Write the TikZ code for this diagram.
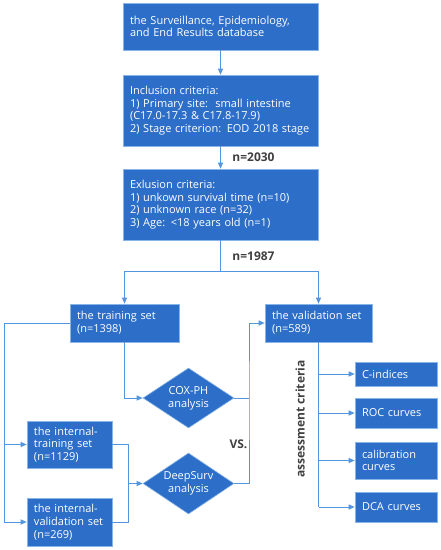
\documentclass[tikz,border=0pt]{standalone}
\usepackage{fontspec}
\setmainfont{Open Sans}
\usetikzlibrary{shapes.geometric,arrows.meta}
\definecolor{boxblue}{RGB}{44,110,200}
\definecolor{lineblue}{RGB}{84,150,222}
\definecolor{labelgray}{RGB}{64,64,64}
\begin{document}
\begin{tikzpicture}[x=1pt,y=-1pt,
  box/.style={rectangle,fill=boxblue,draw=lineblue!70,line width=0.6pt,text=white,align=left,inner sep=0pt,font=\fontsize{11}{12.7}\selectfont,anchor=center},
  dia/.style={diamond,fill=boxblue,draw=lineblue!70,line width=0.6pt,text=white,align=center,inner sep=0pt,aspect=1.5,font=\fontsize{11}{12.7}\selectfont},
  conn/.style={draw=lineblue,line width=1pt},
  arr/.style={conn,-{Triangle[length=6pt,width=5pt]}},
  lbl/.style={text=labelgray,font=\bfseries\fontsize{12}{13}\selectfont},
]
\useasboundingbox (0,0) rectangle (440,550);
\fill[white] (0,0) rectangle (440,550);

\node[box,minimum width=195pt,minimum height=47pt,text width=181pt] (db) at (220.5,26.5)
  {the Surveillance, Epidemiology,\\and End Results database};
\node[box,minimum width=195pt,minimum height=71pt,text width=181pt] (inc) at (220.5,110.5)
  {Inclusion criteria:\\1) Primary site:\ \ small intestine\\(C17.0-17.3 \& C17.8-17.9)\\2) Stage criterion: EOD 2018 stage};
\node[box,minimum width=195pt,minimum height=71pt,text width=181pt] (exc) at (220.5,204.5)
  {Exlusion criteria:\\1) unkown survival time (n=10)\\2) unknown race (n=32)\\3) Age: <18 years old (n=1)};
\node[box,minimum width=109pt,minimum height=38pt,text width=95pt] (train) at (124.5,323)
  {the training set\\(n=1398)};
\node[box,minimum width=107pt,minimum height=38pt,text width=93pt] (val) at (318.5,323)
  {the validation set\\(n=589)};
\node[box,minimum width=85pt,minimum height=47pt,text width=71pt] (itrain) at (69.5,444.5)
  {the internal-\\training set\\(n=1129)};
\node[box,minimum width=85pt,minimum height=48pt,text width=71pt] (ival) at (69.5,522)
  {the internal-\\validation set\\(n=269)};
\node[dia,minimum width=91pt,minimum height=60pt] (cox) at (188.5,398) {COX-PH\\analysis};
\node[dia,minimum width=91pt,minimum height=61pt] (deep) at (188.5,483.5) {DeepSurv\\analysis};
\node[box,minimum width=82pt,minimum height=24pt,text width=68pt] (cidx) at (396,374) {C-indices};
\node[box,minimum width=82pt,minimum height=30pt,text width=68pt] (roc) at (396,413) {ROC curves};
\node[box,minimum width=82pt,minimum height=37pt,text width=68pt] (cal) at (396,460.5) {calibration\\curves};
\node[box,minimum width=82pt,minimum height=30pt,text width=68pt] (dca) at (396,507) {DCA curves};

\node[lbl] (n1) at (253.5,157) {n=2030};
\node[lbl] (n2) at (253.5,256) {n=1987};
\node[lbl] (vs) at (238.5,444) {VS.};
\node[lbl,rotate=90] (ac) at (300,419) {assessment criteria};

\draw[arr] (db.south) -- (inc.north);
\draw[arr] (inc.south) -- (exc.north);
\coordinate (split) at (220.5,271);
\draw[conn] (exc.south) -- (split);
\draw[arr] (split) -| (train.north);
\draw[arr] (split) -| (val.north);

\coordinate (lft) at (4,323);
\draw[conn] (train.west) -- (lft);
\draw[arr] (lft) |- (itrain.west);
\draw[arr] (lft) |- (ival.west);
\draw[arr] (train.south) |- (cox.west);

\coordinate (mj) at (128,483.5);
\draw[conn] (itrain.east) -| (mj);
\draw[conn] (ival.east) -| (mj);
\draw[arr] (mj) -- (deep.west);

\coordinate (rj) at (249,398);
\draw[conn] (cox.east) -- (rj);
\draw[arr] (deep.east) -| (rj) |- (val.west);

\coordinate (vb) at (318.5,507);
\draw[conn] (val.south) -- (vb);
\draw[arr] (val.south |- cidx.west) -- (cidx.west);
\draw[arr] (val.south |- roc.west) -- (roc.west);
\draw[arr] (val.south |- cal.west) -- (cal.west);
\draw[arr] (vb) -- (dca.west);
\end{tikzpicture}
\end{document}
